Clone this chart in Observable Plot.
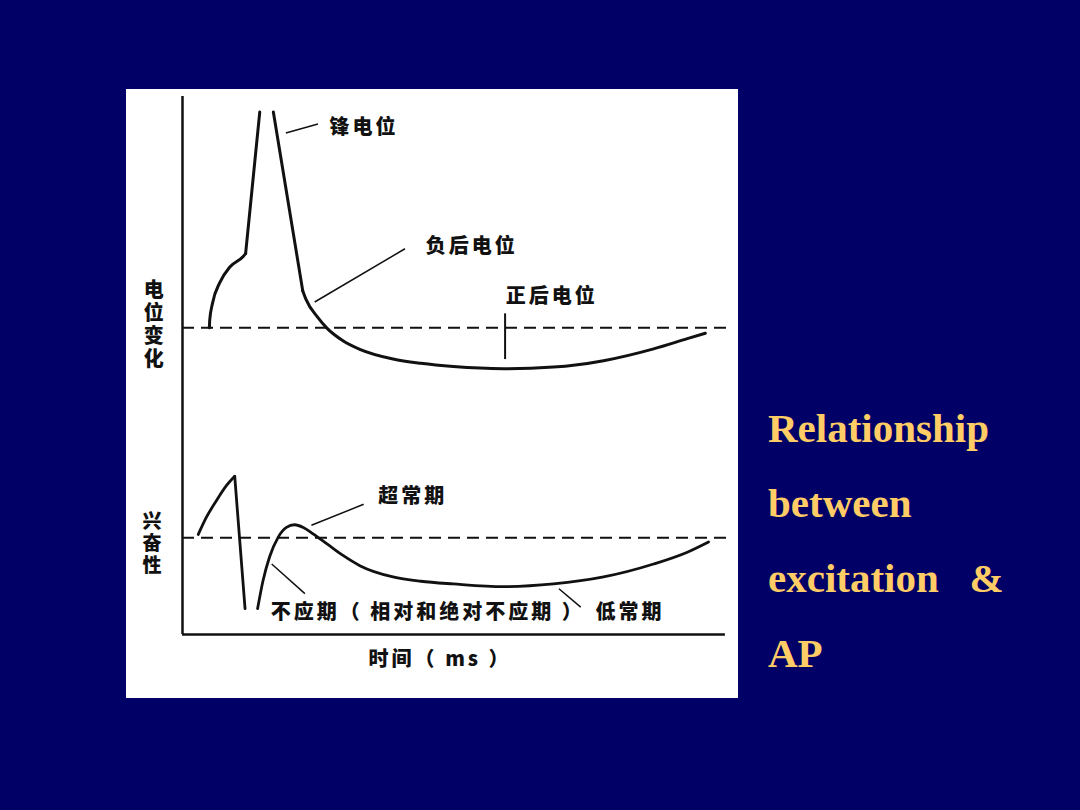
<!DOCTYPE html>
<html>
<head>
<meta charset="utf-8">
<script src="https://cdn.jsdelivr.net/npm/d3@7"></script>
<script src="https://cdn.jsdelivr.net/npm/@observablehq/plot@0.6"></script>
<style>
  html, body { margin: 0; padding: 0; }
  body { width: 1080px; height: 810px; background: #000066; position: relative; overflow: hidden; }
  #panel { position: absolute; left: 126px; top: 89px; width: 612px; height: 609px; background: #ffffff; }
  #title { position: absolute; left: 768px; top: 391px; font-family: "Liberation Serif", "Times New Roman", serif;
           font-weight: bold; font-size: 41px; line-height: 75px; color: #FFCC66; white-space: pre; }
</style>
</head>
<body>
<div id="panel"></div>
<div id="title">Relationship
between
excitation   &amp;
AP</div>
<script>
// ---- Action potential (电位变化): time 0..100, amplitude 0..100 ----
const apShoulderX = [4.95, 5.0, 5.5, 6.9, 8.7, 11.2, 11.6];
const apShoulderY = [57.0, 58.4, 61.5, 65.5, 68.3, 70.3, 70.8];
const apUpX = [11.6, 14.2];
const apUpY = [70.8, 97.1];
const apDownX = [16.7, 22.1];
const apDownY = [97.1, 63.9];
const apTailX = [22.1, 22.7, 24.9, 26.5, 29.5, 32.6, 38.7, 43.8, 49.8, 59.0, 68.2, 77.4, 86.6, 92.8, 96.1];
const apTailY = [63.9, 62.3, 58.9, 57.0, 54.6, 53.0, 51.2, 50.4, 49.8, 49.4, 49.7, 50.9, 53.1, 55.0, 56.0];

// ---- Excitability (兴奋性) ----
const exRiseX = [2.9, 4.4, 6.25, 8.1, 9.6];
const exRiseY = [18.6, 21.8, 24.9, 27.7, 29.4];
const exDropX = [9.6, 11.5];
const exDropY = [29.4, 4.8];
const exRecX = [13.8, 14.8, 16.0, 17.6, 19.1, 20.6, 22.2, 24.0, 26.5, 29.5, 32.6, 38.7, 43.8, 49.8, 59.0, 68.2, 77.4, 86.6, 92.8, 96.7];
const exRecY = [4.8, 10.0, 14.4, 18.1, 19.9, 20.4, 19.9, 18.7, 16.9, 14.7, 12.8, 10.7, 9.9, 9.4, 8.9, 9.4, 10.7, 13.1, 15.3, 17.2];

// baselines (resting potential / normal excitability)
const baselines = [57, 18];
// marker on positive after-potential
const markX = [59.3];
const markY1 = [51.1];
const markY2 = [59.6];

// labels
const labels = ["锋电位", "负后电位", "正后电位", "超常期", "不应期（ 相对和绝对不应期 ）", "低常期", "时间（ ms ）"];
const labelX = [27.0, 44.7, 59.4, 36.0, 16.2, 75.9, 34.2];
const labelY = [94.3, 72.1, 62.8, 25.65, 4.0, 4.1, -4.65];

// leader lines
const leadX1 = [19.0, 24.3, 23.7, 16.4, 69.2];
const leadY1 = [93.2, 61.8, 20.3, 13.1, 8.5];
const leadX2 = [24.9, 40.9, 33.3, 22.5, 73.2];
const leadY2 = [94.9, 71.7, 24.2, 7.6, 5.1];

// vertical axis labels (set in vertical writing mode)
const axisLabels = ["电位变化", "兴奋性"];
const axisLabelX = [-5.3, -5.6];
const axisLabelY = [58.7, 17.9];
const axisLabelSize = [20, 19];

const toPts = (xs, ys) => xs.map((x, i) => ({x, y: ys[i]}));
const idx = a => a.map((_, i) => i);

const cjk = '"Noto Sans CJK SC", "Noto Sans", sans-serif';
const ink = "#111";
const curveOpts = (w, curve) => ({x: "x", y: "y", curve, stroke: ink, strokeWidth: w, strokeLinecap: "round", strokeLinejoin: "round"});

const chart = Plot.plot({
  width: 612,
  height: 609,
  marginLeft: 56,
  marginRight: 12,
  marginTop: 7,
  marginBottom: 64,
  x: {domain: [0, 100], axis: null},
  y: {domain: [0, 100], axis: null},
  style: {background: "white", fontFamily: cjk, overflow: "visible"},
  marks: [
    // axes
    Plot.ruleX([0], {y1: 0, y2: 100, stroke: ink, strokeWidth: 2.5}),
    Plot.ruleY([0], {x1: 0, x2: 99.8, stroke: ink, strokeWidth: 2.5}),
    // dashed baselines
    Plot.ruleY(baselines, {x1: 0, x2: 100.6, stroke: ink, strokeWidth: 2, strokeDasharray: "12,7"}),
    // AP curve
    Plot.line(toPts(apShoulderX, apShoulderY), curveOpts(3, "monotone-x")),
    Plot.line(toPts(apUpX, apUpY), curveOpts(3, "linear")),
    Plot.line(toPts(apDownX, apDownY), curveOpts(3, "linear")),
    Plot.line(toPts(apTailX, apTailY), curveOpts(3, "monotone-x")),
    // excitability curve
    Plot.line(toPts(exRiseX, exRiseY), curveOpts(2.8, "monotone-x")),
    Plot.line(toPts(exDropX, exDropY), curveOpts(2.8, "linear")),
    Plot.line(toPts(exRecX, exRecY), curveOpts(2.8, "monotone-x")),
    // marker tick
    Plot.ruleX(markX, {y1: markY1, y2: markY2, stroke: ink, strokeWidth: 2}),
    // leader lines
    Plot.link(idx(leadX1), {x1: i => leadX1[i], y1: i => leadY1[i], x2: i => leadX2[i], y2: i => leadY2[i], stroke: ink, strokeWidth: 1.5}),
    // labels
    Plot.text(idx(labels), {x: i => labelX[i], y: i => labelY[i], text: i => labels[i], textAnchor: "start",
      fontSize: 20, fontWeight: 900, fill: ink, fontFamily: cjk, className: "h"}),
    // vertical axis labels
    Plot.text(idx(axisLabels), {x: i => axisLabelX[i], y: i => axisLabelY[i], text: i => axisLabels[i],
      fontSize: i => axisLabelSize[i], fontWeight: 900, fill: ink, fontFamily: cjk, className: "v"})
  ]
});
chart.querySelectorAll("g.h text, text.h").forEach(t => t.style.letterSpacing = "3px");
chart.querySelectorAll("g.v text, text.v").forEach(t => {
  t.removeAttribute("dy");
  t.style.writingMode = "vertical-rl";
  t.style.letterSpacing = "3px";
});
document.getElementById("panel").appendChild(chart);
</script>
</body>
</html>
